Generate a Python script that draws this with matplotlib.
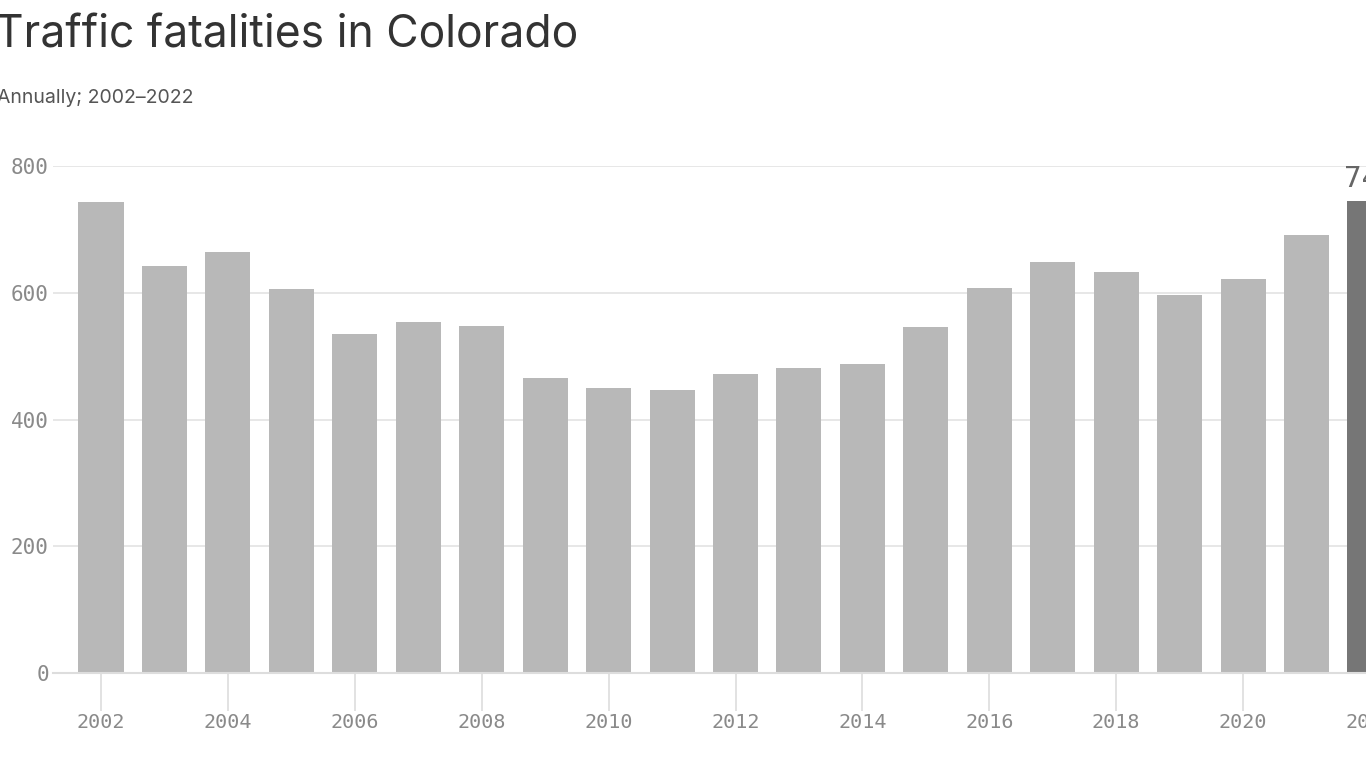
import matplotlib
matplotlib.use("Agg")
import matplotlib.pyplot as plt

years = list(range(2002, 2023))
fatalities = [743, 642, 665, 606, 535, 554, 548, 465, 450, 447, 472, 481, 488, 546, 608, 648, 632, 596, 622, 691, 745]
tick_years = list(range(2002, 2023, 2))
title = "Traffic fatalities in Colorado"
subtitle = "Annually; 2002\u20132022"

W, H = 1366, 768
fig = plt.figure(figsize=(W / 100, H / 100), dpi=100)
fig.patch.set_facecolor("white")

left_px, right_px, top_px, bottom_px = 53, 1420, 166, 673
ax = fig.add_axes([left_px / W, (H - bottom_px) / H,
                   (right_px - left_px) / W, (bottom_px - top_px) / H])

colors = ["#b8b8b8"] * (len(years) - 1) + ["#767676"]
ax.bar(years, fatalities, width=0.71, color=colors, zorder=3)

px_per_year = 63.45
ax.set_xlim(2002 - (101 - left_px) / px_per_year, 2002 + (right_px - 101) / px_per_year)
ax.set_ylim(0, 800)

ax.set_yticks([0, 200, 400, 600, 800])
ax.set_xticks(tick_years)
ax.grid(axis="y", color="#e3e3e3", linewidth=1.2, zorder=0)
for s in ["top", "right", "left"]:
    ax.spines[s].set_visible(False)
ax.spines["bottom"].set_color("#dddddd")
ax.spines["bottom"].set_linewidth(1.5)
ax.spines["bottom"].set_zorder(4)

mono = "DejaVu Sans Mono"
ax.tick_params(axis="y", length=0, pad=3, labelsize=15, labelcolor="#8a8a8a")
ax.tick_params(axis="x", length=27, width=1.2, color="#dddddd", pad=2,
               labelsize=14.5, labelcolor="#8a8a8a")
for lab in ax.get_xticklabels() + ax.get_yticklabels():
    lab.set_fontfamily(mono)

ax.text(years[-1], fatalities[-1] + 12, str(fatalities[-1]), ha="center", va="bottom",
        fontsize=21, color="#666666", family=mono, clip_on=False)

fig.text(-5 / W, 1 - 47 / H, title, fontsize=32, color="#333333",
         family="Inter", va="baseline", ha="left")
fig.text(-3 / W, 1 - 103 / H, subtitle, fontsize=14, color="#555555",
         family="Inter", va="baseline", ha="left")

fig.savefig("out.png", dpi=100)
